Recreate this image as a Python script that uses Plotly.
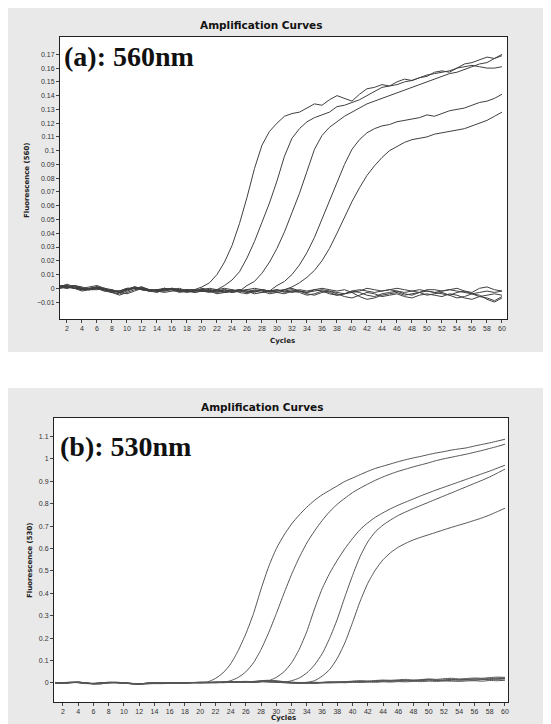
import plotly.graph_objects as go

cycles = list(range(1, 61))
x_ticks = list(range(2, 61, 2))
y_ticks_a = [-0.01, 0, 0.01, 0.02, 0.03, 0.04, 0.05, 0.06, 0.07, 0.08, 0.09,
             0.1, 0.11, 0.12, 0.13, 0.14, 0.15, 0.16, 0.17]
y_ticks_b = [0, 0.1, 0.2, 0.3, 0.4, 0.5, 0.6, 0.7, 0.8, 0.9, 1, 1.1]

# ---------- (a) 560 nm ----------
a_pos1 = [0.002,0.001,0.000,-0.001,0.000,0.001,-0.001,-0.002,-0.003,-0.001,0.000,0.001,-0.001,-0.002,-0.001,0.000,-0.001,-0.002,-0.001,0.001,
          0.004,0.010,0.019,0.031,0.047,0.066,0.087,0.104,0.114,0.120,
          0.125,0.127,0.128,0.131,0.134,0.133,0.137,0.140,0.138,0.136,
          0.141,0.145,0.146,0.148,0.147,0.150,0.152,0.151,0.153,0.155,
          0.156,0.157,0.158,0.160,0.161,0.162,0.161,0.160,0.160,0.161]
a_pos2 = [0.001,0.002,0.000,-0.001,-0.001,0.001,0.000,-0.002,-0.002,-0.001,0.001,0.000,-0.001,-0.002,0.000,-0.001,-0.002,-0.001,-0.002,-0.001,
          0.000,-0.001,0.002,0.006,0.012,0.022,0.034,0.048,0.062,0.078,
          0.096,0.109,0.116,0.121,0.124,0.126,0.128,0.132,0.133,0.135,
          0.137,0.140,0.143,0.146,0.147,0.148,0.150,0.151,0.153,0.154,
          0.157,0.158,0.157,0.160,0.163,0.164,0.166,0.168,0.167,0.170]
a_pos3 = [0.000,0.001,0.002,0.000,-0.001,0.000,-0.001,-0.003,-0.002,0.000,0.000,-0.001,-0.002,-0.001,-0.001,0.000,-0.002,-0.001,-0.002,-0.001,
          -0.002,-0.001,0.000,-0.001,-0.002,0.002,0.005,0.011,0.019,0.029,
          0.041,0.055,0.069,0.085,0.101,0.111,0.117,0.121,0.125,0.128,
          0.131,0.134,0.136,0.138,0.140,0.142,0.144,0.146,0.148,0.150,
          0.152,0.154,0.156,0.157,0.159,0.161,0.163,0.164,0.167,0.169]
a_pos4 = [0.001,0.000,0.001,-0.001,0.000,0.000,-0.002,-0.001,-0.003,-0.001,0.001,-0.001,-0.001,-0.002,0.000,-0.001,-0.001,-0.002,-0.002,0.000,
          -0.001,-0.002,-0.001,-0.002,-0.001,-0.003,-0.002,-0.001,-0.002,0.002,
          0.005,0.010,0.017,0.026,0.037,0.050,0.063,0.077,0.090,0.101,
          0.108,0.113,0.116,0.118,0.119,0.121,0.122,0.123,0.124,0.126,
          0.125,0.127,0.129,0.130,0.131,0.133,0.135,0.136,0.138,0.141]
a_pos5 = [0.002,0.001,0.000,0.000,-0.001,0.001,-0.001,-0.002,-0.002,0.000,0.000,-0.001,-0.002,-0.002,-0.001,0.000,-0.002,-0.001,-0.001,-0.002,
          -0.002,-0.001,-0.003,-0.002,-0.001,-0.002,-0.003,-0.001,-0.002,-0.002,
          -0.001,0.001,0.004,0.008,0.013,0.020,0.029,0.040,0.052,0.063,
          0.073,0.082,0.089,0.095,0.100,0.103,0.106,0.108,0.109,0.110,
          0.112,0.113,0.114,0.115,0.116,0.118,0.120,0.122,0.125,0.128]
a_neg1 = [0.002,0.002,0.001,0.000,0.001,0.002,0.000,-0.002,-0.003,-0.001,0.001,0.000,-0.001,-0.002,-0.002,0.000,-0.001,-0.002,-0.001,-0.002,
          -0.003,-0.002,-0.001,-0.003,-0.002,-0.001,-0.002,-0.003,-0.002,-0.001,
          -0.002,-0.001,-0.002,-0.003,-0.002,-0.001,-0.002,-0.003,-0.004,-0.002,
          -0.001,-0.002,-0.003,-0.002,-0.001,-0.002,-0.003,-0.002,-0.001,-0.002,
          -0.003,-0.002,-0.001,-0.002,-0.003,-0.004,-0.003,-0.002,-0.003,-0.002]
a_neg2 = [0.001,0.003,0.001,-0.001,0.000,0.001,-0.001,-0.003,-0.004,-0.002,0.000,0.001,-0.002,-0.003,-0.001,-0.001,-0.002,-0.003,-0.002,-0.001,
          -0.002,-0.003,-0.002,-0.001,-0.003,-0.004,-0.002,-0.001,-0.003,-0.002,
          -0.001,0.000,-0.002,-0.003,-0.001,-0.002,-0.004,-0.005,-0.004,-0.002,
          -0.003,-0.005,-0.006,-0.004,-0.003,-0.002,-0.004,-0.005,-0.003,-0.002,
          -0.003,-0.004,-0.005,-0.003,-0.002,-0.004,-0.006,-0.005,-0.004,-0.005]
a_neg3 = [0.000,0.001,0.002,0.000,-0.001,0.000,-0.002,-0.003,-0.005,-0.003,-0.001,0.000,-0.001,-0.002,-0.003,-0.002,-0.002,-0.001,-0.003,-0.002,
          -0.001,-0.002,-0.003,-0.002,-0.002,-0.003,-0.001,-0.002,-0.004,-0.003,
          -0.002,-0.003,-0.002,-0.004,-0.005,-0.003,-0.002,-0.004,-0.006,-0.007,
          -0.005,-0.003,-0.004,-0.006,-0.005,-0.004,-0.006,-0.007,-0.005,-0.004,
          -0.005,-0.006,-0.004,-0.005,-0.007,-0.008,-0.006,-0.007,-0.009,-0.006]
a_neg4 = [0.002,0.001,0.000,-0.002,-0.001,0.000,-0.001,-0.002,-0.002,-0.001,0.000,-0.001,-0.002,-0.001,0.000,-0.001,-0.003,-0.002,-0.001,-0.002,
          -0.002,-0.001,-0.002,-0.003,-0.002,-0.001,0.000,-0.001,-0.002,-0.001,
          -0.003,-0.002,-0.001,-0.002,-0.001,0.000,-0.001,-0.002,-0.001,-0.003,
          -0.002,0.000,-0.001,-0.002,-0.001,0.000,-0.001,-0.002,-0.003,-0.001,
          -0.001,-0.002,-0.001,0.000,-0.002,-0.003,0.000,0.001,-0.001,-0.002]
a_neg5 = [0.001,0.000,0.002,0.001,-0.001,-0.001,0.000,-0.001,-0.003,-0.004,-0.002,0.000,-0.001,-0.001,-0.002,-0.001,0.000,-0.002,-0.003,-0.002,
          -0.002,-0.004,-0.003,-0.002,-0.001,-0.002,-0.004,-0.003,-0.002,-0.003,
          -0.004,-0.002,-0.003,-0.005,-0.004,-0.002,-0.003,-0.005,-0.004,-0.003,
          -0.006,-0.008,-0.007,-0.005,-0.004,-0.003,-0.005,-0.004,-0.003,-0.005,
          -0.004,-0.003,-0.005,-0.007,-0.006,-0.004,-0.005,-0.008,-0.010,-0.007]

# ---------- (b) 530 nm ----------
b_pos1 = [0.000,-0.002,0.002,0.004,0.000,-0.004,-0.003,0.002,0.003,0.001,-0.002,-0.004,-0.001,0.000,-0.002,-0.001,0.000,0.001,0.002,0.003,
          0.005,0.020,0.045,0.085,0.145,0.220,0.310,0.420,0.520,0.600,
          0.660,0.710,0.750,0.785,0.815,0.840,0.860,0.880,0.900,0.915,
          0.930,0.945,0.958,0.968,0.978,0.988,0.997,1.005,1.012,1.020,
          1.027,1.033,1.040,1.045,1.050,1.058,1.065,1.072,1.080,1.088]
b_pos2 = [0.001,-0.001,0.003,0.002,-0.002,-0.003,-0.001,0.003,0.002,0.000,-0.003,-0.004,-0.002,-0.001,-0.001,0.000,0.001,0.000,0.001,0.002,
          0.002,0.001,0.003,0.010,0.025,0.050,0.090,0.150,0.225,0.310,
          0.400,0.485,0.560,0.625,0.678,0.725,0.765,0.798,0.825,0.850,
          0.870,0.888,0.905,0.920,0.933,0.945,0.955,0.965,0.974,0.983,
          0.993,1.001,1.008,1.015,1.022,1.030,1.038,1.047,1.056,1.066]
b_pos3 = [0.000,0.002,0.003,0.001,-0.003,-0.002,0.001,0.002,0.001,-0.001,-0.004,-0.003,-0.002,0.000,-0.001,0.001,0.000,0.002,0.001,0.003,
          0.002,0.004,0.002,0.003,0.004,0.005,0.003,0.006,0.010,0.025,
          0.050,0.090,0.150,0.230,0.330,0.420,0.490,0.548,0.600,0.645,
          0.685,0.715,0.740,0.760,0.778,0.794,0.808,0.822,0.836,0.849,
          0.862,0.874,0.886,0.898,0.910,0.922,0.934,0.946,0.959,0.972]
b_pos4 = [0.001,0.000,0.002,0.003,-0.001,-0.003,0.000,0.002,0.002,0.000,-0.003,-0.004,-0.001,0.001,0.000,-0.001,0.001,0.000,0.002,0.001,
          0.003,0.002,0.004,0.003,0.005,0.006,0.004,0.007,0.005,0.004,
          0.003,0.010,0.022,0.045,0.080,0.130,0.200,0.285,0.385,0.480,
          0.565,0.630,0.675,0.705,0.728,0.748,0.764,0.779,0.793,0.807,
          0.821,0.835,0.849,0.863,0.877,0.891,0.905,0.920,0.937,0.955]
b_pos5 = [0.000,0.001,0.003,0.002,-0.002,-0.002,0.001,0.003,0.001,0.000,-0.002,-0.003,-0.002,0.000,0.001,0.000,-0.001,0.001,0.002,0.000,
          0.002,0.003,0.002,0.004,0.003,0.005,0.004,0.006,0.008,0.005,
          0.004,0.003,0.002,0.003,0.010,0.030,0.060,0.110,0.180,0.270,
          0.365,0.445,0.505,0.550,0.582,0.606,0.624,0.639,0.651,0.662,
          0.673,0.684,0.695,0.705,0.715,0.726,0.737,0.750,0.765,0.780]
b_neg1 = [0.000,-0.002,0.002,0.004,0.000,-0.004,-0.003,0.002,0.003,0.001,-0.002,-0.004,-0.001,0.000,-0.002,-0.001,0.000,0.001,0.002,0.003,
          0.002,0.004,0.003,0.005,0.004,0.006,0.005,0.008,0.006,0.004,
          0.002,0.000,-0.001,0.001,0.003,0.002,0.004,0.006,0.005,0.007,
          0.008,0.006,0.009,0.010,0.008,0.011,0.012,0.010,0.013,0.015,
          0.012,0.014,0.016,0.013,0.015,0.017,0.018,0.016,0.019,0.020]
b_neg2 = [0.001,0.000,0.001,0.003,-0.001,-0.003,-0.002,0.001,0.002,0.000,-0.003,-0.005,-0.003,-0.002,-0.001,0.000,0.001,0.000,0.002,0.002,
          0.001,0.003,0.005,0.004,0.006,0.007,0.006,0.010,0.012,0.008,
          0.004,0.001,0.000,0.002,0.001,0.003,0.005,0.004,0.006,0.008,
          0.010,0.009,0.011,0.013,0.012,0.014,0.016,0.013,0.015,0.018,
          0.016,0.019,0.021,0.018,0.020,0.022,0.021,0.024,0.026,0.025]
b_neg3 = [-0.001,0.001,0.002,0.002,-0.002,-0.004,-0.001,0.001,0.001,-0.001,-0.003,-0.004,-0.002,-0.001,-0.002,0.000,0.000,0.001,0.001,0.002,
          0.003,0.002,0.004,0.006,0.005,0.004,0.007,0.009,0.011,0.010,
          0.006,0.003,0.002,0.000,-0.002,0.000,0.002,0.001,0.003,0.004,
          0.006,0.005,0.007,0.009,0.008,0.010,0.009,0.012,0.011,0.013,
          0.011,0.010,0.012,0.014,0.013,0.012,0.015,0.017,0.016,0.018]
b_neg4 = [0.000,0.000,0.001,0.002,0.001,-0.002,-0.002,0.000,0.001,0.000,-0.002,-0.003,-0.003,-0.002,-0.001,-0.001,0.000,0.000,0.001,0.001,
          0.000,0.002,0.001,0.003,0.002,0.004,0.003,0.005,0.004,0.003,
          0.001,-0.001,-0.002,-0.001,0.000,0.001,0.000,0.002,0.001,0.003,
          0.002,0.004,0.003,0.005,0.004,0.006,0.005,0.007,0.006,0.008,
          0.007,0.009,0.008,0.007,0.009,0.010,0.008,0.011,0.010,0.012]
b_neg5 = [0.001,-0.001,0.001,0.003,0.001,-0.003,-0.004,0.001,0.002,0.001,-0.004,-0.006,-0.004,-0.003,-0.003,-0.002,-0.001,0.000,0.001,0.001,
          0.002,0.001,0.003,0.002,0.004,0.005,0.004,0.006,0.008,0.007,
          0.005,0.002,0.001,-0.001,0.000,0.002,0.003,0.002,0.004,0.006,
          0.005,0.007,0.006,0.008,0.010,0.009,0.011,0.010,0.012,0.014,
          0.013,0.012,0.015,0.014,0.016,0.018,0.017,0.019,0.022,0.021]

top_series = [a_neg1, a_neg2, a_neg3, a_neg4, a_neg5, a_pos1, a_pos2, a_pos3, a_pos4, a_pos5]
bot_series = [b_neg1, b_neg2, b_neg3, b_neg4, b_neg5, b_pos1, b_pos2, b_pos3, b_pos4, b_pos5]

# the page body has an 8px default margin; the figure is sized to fit the window
OFF = 8
W, H = 551 - OFF, 724 - OFF
def px(x): return max(0.0, min(1.0, (x - OFF) / W))
def py(y): return max(0.0, min(1.0, 1 - (y - OFF) / H))

fig = go.Figure()
for s in top_series:
    fig.add_trace(go.Scatter(x=cycles, y=s, mode="lines", xaxis="x", yaxis="y",
                             line=dict(color="#404040", width=1), showlegend=False, hoverinfo="skip"))
for s in bot_series:
    fig.add_trace(go.Scatter(x=cycles, y=s, mode="lines", xaxis="x2", yaxis="y2",
                             line=dict(color="#555555", width=1, shape="spline", smoothing=0.6),
                             showlegend=False, hoverinfo="skip"))

tickfont = dict(family="Liberation Sans, Arial", size=7, color="#333333")
axis_common = dict(showline=True, linecolor="#222222", linewidth=1, mirror=True,
                   ticks="outside", ticklen=3, tickcolor="#444444", showgrid=False,
                   zeroline=False, tickfont=tickfont)

fig.update_layout(
    width=W, height=H, autosize=False,
    margin=dict(l=0, r=0, t=0, b=0),
    paper_bgcolor="white", plot_bgcolor="white",
    xaxis=dict(domain=[px(60), px(507)], range=[1.07, 60.67], anchor="y",
               tickvals=x_ticks, **axis_common),
    yaxis=dict(domain=[py(319), py(37)], range=[-0.0223, 0.1826], anchor="x",
               tickvals=y_ticks_a, **axis_common),
    xaxis2=dict(domain=[px(54), px(508)], range=[0.82, 60.4], anchor="y2",
                tickvals=x_ticks, **axis_common),
    yaxis2=dict(domain=[py(702), py(418)], range=[-0.085, 1.183], anchor="x2",
                tickvals=y_ticks_b, **axis_common),
    shapes=[
        dict(type="rect", xref="paper", yref="paper", x0=0, x1=1, y0=py(352), y1=1,
             fillcolor="#e9e9e9", line=dict(width=0), layer="below"),
        dict(type="rect", xref="paper", yref="paper", x0=0, x1=1, y0=0, y1=py(388),
             fillcolor="#e9e9e9", line=dict(width=0), layer="below"),
        dict(type="rect", xref="x domain", yref="y domain", x0=0, x1=1, y0=0, y1=1,
             fillcolor="white", line=dict(width=0), layer="below"),
        dict(type="rect", xref="x2 domain", yref="y2 domain", x0=0, x1=1, y0=0, y1=1,
             fillcolor="white", line=dict(width=0), layer="below"),
    ],
)

title_font = dict(family="DejaVu Sans", size=10.5, color="#111111")
small_font = dict(family="DejaVu Sans", size=7, color="#222222")
big_font = dict(family="Liberation Serif", size=28, color="#111111")

ann = [
    dict(text="<b>Amplification Curves</b>", x=px(261), y=py(25), font=title_font),
    dict(text="<b>Amplification Curves</b>", x=px(262), y=py(407), font=title_font),
    dict(text="<b>Cycles</b>", x=px(282), y=py(341), font=small_font),
    dict(text="<b>Cycles</b>", x=px(283), y=0, font=small_font, yanchor="bottom"),
    dict(text="<b>Fluorescence (560)</b>", x=px(27), y=py(180), font=small_font, textangle=-90),
    dict(text="<b>Fluorescence (530)</b>", x=px(30), y=py(560), font=small_font, textangle=-90),
    dict(text="<b>(a): 560nm</b>", x=px(62), y=py(56), font=big_font, xanchor="left"),
    dict(text="<b>(b): 530nm</b>", x=px(58), y=py(446), font=big_font, xanchor="left"),
]
for a in ann:
    a.setdefault("xanchor", "center")
    a.setdefault("yanchor", "middle")
    fig.add_annotation(xref="paper", yref="paper", showarrow=False, **a)

fig.write_html("out.html")
